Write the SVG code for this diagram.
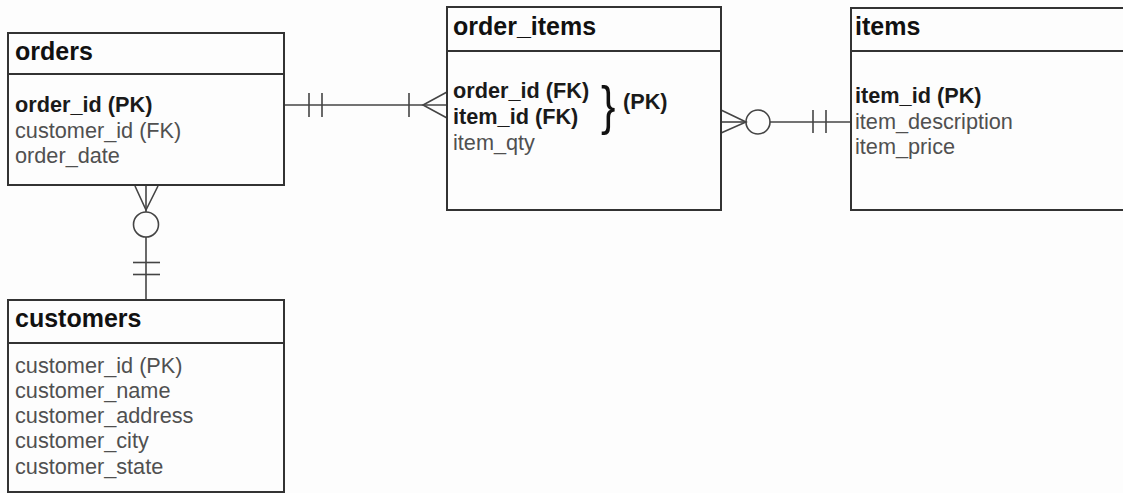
<svg xmlns="http://www.w3.org/2000/svg" width="1123" height="493" viewBox="0 0 1123 493">
<style>
.box{fill:#fdfdfd;stroke:#333;stroke-width:2}
.div{stroke:#333;stroke-width:2}
.t{font-family:"Liberation Sans",Arial,sans-serif;font-size:25px;font-weight:bold;fill:#111}
.f{font-family:"Liberation Sans",Arial,sans-serif;font-size:21.7px;fill:#505050}
.k{font-family:"Liberation Sans",Arial,sans-serif;font-size:21.7px;font-weight:bold;fill:#1a1a1a}
.c{stroke:#444;stroke-width:1.6;fill:none}
</style>
<rect width="1123" height="493" fill="#fdfdfd"/>
<g id="connectors">
  <!-- orders - order_items -->
  <line class="c" x1="284" y1="105" x2="447" y2="105"/>
  <line class="c" x1="309" y1="93" x2="309" y2="117"/>
  <line class="c" x1="322" y1="93" x2="322" y2="117"/>
  <line class="c" x1="409" y1="93" x2="409" y2="117"/>
  <polyline class="c" points="447,92 423,105 447,118"/>
  <!-- order_items - items -->
  <line class="c" x1="721" y1="122" x2="746" y2="122"/>
  <polyline class="c" points="721,110 746,122 721,133"/>
  <circle class="c" cx="758" cy="122" r="12"/>
  <line class="c" x1="770" y1="122" x2="851" y2="122"/>
  <line class="c" x1="813" y1="110" x2="813" y2="133"/>
  <line class="c" x1="826" y1="110" x2="826" y2="133"/>
  <!-- orders - customers -->
  <line class="c" x1="146" y1="186" x2="146" y2="212"/>
  <polyline class="c" points="135,186 146,210 158,186"/>
  <circle class="c" cx="146" cy="224.5" r="12.5"/>
  <line class="c" x1="146" y1="237" x2="146" y2="300"/>
  <line class="c" x1="133" y1="262.5" x2="160" y2="262.5"/>
  <line class="c" x1="133" y1="274.5" x2="160" y2="274.5"/>
</g>
<g id="orders">
  <rect class="box" x="8" y="33" width="276" height="152"/>
  <line class="div" x1="8" y1="74" x2="284" y2="74"/>
  <text class="t" x="15" y="60">orders</text>
  <text class="k" x="15" y="112">order_id (PK)</text>
  <text class="f" x="15" y="137.5">customer_id (FK)</text>
  <text class="f" x="15" y="163">order_date</text>
</g>
<g id="order_items">
  <rect class="box" x="447" y="7" width="274" height="203"/>
  <line class="div" x1="447" y1="51" x2="721" y2="51"/>
  <text class="t" x="453" y="35">order_items</text>
  <text class="k" x="453" y="98">order_id (FK)</text>
  <text class="k" x="453" y="124">item_id (FK)</text>
  <text class="f" x="453" y="150">item_qty</text>
  <text class="f" x="0" y="0" transform="translate(601,124) scale(0.8,1)" style="font-size:54px;fill:#111">}</text>
  <text class="k" x="623" y="109">(PK)</text>
</g>
<g id="items">
  <rect class="box" x="851" y="8" width="290" height="202"/>
  <line class="div" x1="851" y1="51" x2="1123" y2="51"/>
  <text class="t" x="855" y="35">items</text>
  <text class="k" x="855" y="103">item_id (PK)</text>
  <text class="f" x="855" y="129">item_description</text>
  <text class="f" x="855" y="154">item_price</text>
</g>
<g id="customers">
  <rect class="box" x="8" y="300" width="276" height="192"/>
  <line class="div" x1="8" y1="343" x2="284" y2="343"/>
  <text class="t" x="15" y="327">customers</text>
  <text class="f" x="15" y="373">customer_id (PK)</text>
  <text class="f" x="15" y="398">customer_name</text>
  <text class="f" x="15" y="423">customer_address</text>
  <text class="f" x="15" y="448">customer_city</text>
  <text class="f" x="15" y="474">customer_state</text>
</g>
</svg>
